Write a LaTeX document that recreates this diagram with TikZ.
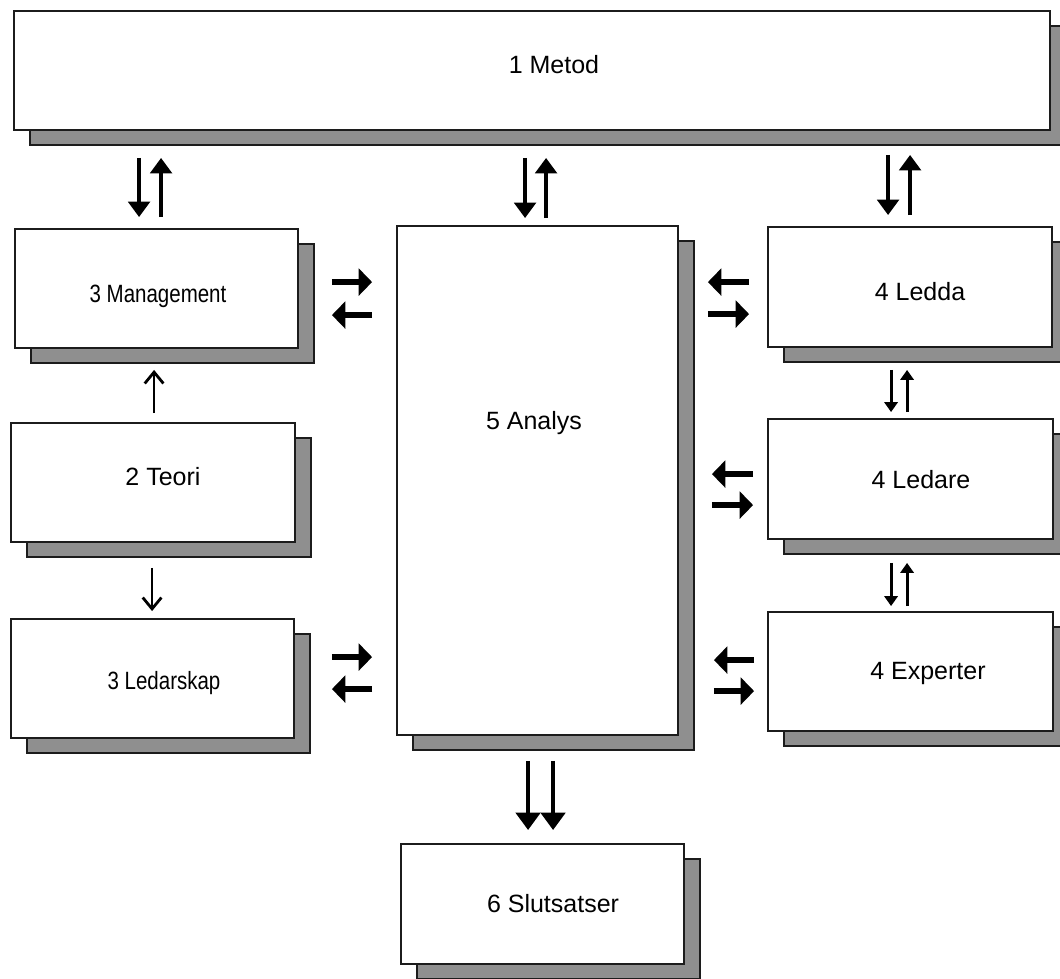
\documentclass[tikz,border=0pt]{standalone}
\usepackage{fontspec}
\setmainfont{Liberation Sans}
\newfontfamily\narrowfont{Liberation Sans}[FakeStretch=0.82]
\usetikzlibrary{arrows.meta,fit}
\definecolor{shadowgray}{HTML}{8F8F8F}
\definecolor{edgecol}{HTML}{1C1C1C}
\tikzset{
  boxnode/.style={draw=edgecol, line width=1.4pt, fill=white, inner sep=0pt},
  shadowbox/.style={draw=edgecol, line width=1.4pt, fill=shadowgray},
  boxtext/.style={anchor=base, inner sep=0pt, font=\fontsize{18.75}{22}\selectfont},
  narrowtext/.style={anchor=base, inner sep=0pt, font=\fontsize{18.75}{22}\selectfont\narrowfont},
  vfat/.style={line width=3.2pt, -{Triangle[width=16pt,length=11.5pt]}},
  hfat/.style={line width=4.5pt, -{Triangle[width=20pt,length=10pt]}},
  dfat/.style={line width=3.6pt, -{Triangle[width=18pt,length=13pt]}},
  vthin/.style={line width=2.2pt, -{Triangle[width=10pt,length=7.5pt]}},
  barb/.style={line width=2.1pt, -{Straight Barb[width=14pt,length=8.5pt]}},
}
\newcommand\shadowedbox[5]{%
  \path[shadowbox] (#2+16,#3+15) rectangle (#4+16,#5+15);
  \node[boxnode, fit={(#2,#3) (#4,#5)}] (#1) {};
}
\begin{document}
\begin{tikzpicture}[x=0.75pt, y=-0.75pt]
\useasboundingbox (0,0) rectangle (1060,978);
\fill[white] (0,0) rectangle (1060,978);

% boxes
\shadowedbox{metod}{14}{11}{1050}{130}
\shadowedbox{mgmt}{15}{229}{298}{348}
\shadowedbox{teori}{11}{423}{295}{542}
\shadowedbox{ledarskap}{11}{619}{294}{738}
\shadowedbox{analys}{397}{226}{678}{735}
\shadowedbox{slut}{401}{844}{684}{964}
\shadowedbox{ledda}{768}{227}{1052}{347}
\shadowedbox{ledare}{768}{419}{1053}{539}
\shadowedbox{experter}{768}{612}{1053}{731}

% texts
\node[boxtext] (metodT) at (554,73) {1 Metod};
\node[narrowtext] (mgmtT) at (158,302) {3 Management};
\node[boxtext] (teoriT) at (163,485) {2 Teori};
\node[narrowtext] (ledarskapT) at (164,689) {3 Ledarskap};
\node[boxtext] (analysT) at (534,429) {5 Analys};
\node[boxtext] (slutT) at (553,912) {6 Slutsatser};
\node[boxtext] (leddaT) at (920,300) {4 Ledda};
\node[boxtext] (ledareT) at (921,488) {4 Ledare};
\node[boxtext] (experterT) at (928,679) {4 Experter};

% Metod <-> Management
\draw[vfat] ([shift={(126,27)}]metod.south west) -- ([shift={(125,-11)}]mgmt.north west);
\draw[vfat] ([shift={(147,-11)}]mgmt.north west) -- ([shift={(148,27)}]metod.south west);
% Metod <-> Analys
\draw[vfat] ([shift={(512,27)}]metod.south west) -- ([shift={(129,-7)}]analys.north west);
\draw[vfat] ([shift={(150,-7)}]analys.north west) -- ([shift={(533,27)}]metod.south west);
% Metod <-> Ledda
\draw[vfat] ([shift={(875,24)}]metod.south west) -- ([shift={(121,-11)}]ledda.north west);
\draw[vfat] ([shift={(143,-11)}]ledda.north west) -- ([shift={(897,24)}]metod.south west);

% Management <-> Analys
\draw[hfat] ([shift={(33,54)}]mgmt.north east) -- ([shift={(-24,57)}]analys.north west);
\draw[hfat] ([shift={(-24,90)}]analys.north west) -- ([shift={(33,87)}]mgmt.north east);
% Ledarskap <-> Analys
\draw[hfat] ([shift={(37,39)}]ledarskap.north east) -- ([shift={(-24,432)}]analys.north west);
\draw[hfat] ([shift={(-24,464)}]analys.north west) -- ([shift={(37,71)}]ledarskap.north east);

% Ledda <-> Analys
\draw[hfat] ([shift={(-18,56)}]ledda.north west) -- ([shift={(29,57)}]analys.north east);
\draw[hfat] ([shift={(29,89)}]analys.north east) -- ([shift={(-18,88)}]ledda.north west);
% Ledare <-> Analys
\draw[hfat] ([shift={(-14,56)}]ledare.north west) -- ([shift={(33,249)}]analys.north east);
\draw[hfat] ([shift={(33,280)}]analys.north east) -- ([shift={(-14,87)}]ledare.north west);
% Experter <-> Analys
\draw[hfat] ([shift={(-13,49)}]experter.north west) -- ([shift={(35,435)}]analys.north east);
\draw[hfat] ([shift={(35,466)}]analys.north east) -- ([shift={(-13,80)}]experter.north west);

% Ledda <-> Ledare
\draw[vthin] ([shift={(124,22)}]ledda.south west) -- ([shift={(124,-6)}]ledare.north west);
\draw[vthin] ([shift={(140,-6)}]ledare.north west) -- ([shift={(140,22)}]ledda.south west);
% Ledare <-> Experter
\draw[vthin] ([shift={(124,23)}]ledare.south west) -- ([shift={(124,-5)}]experter.north west);
\draw[vthin] ([shift={(140,-5)}]experter.north west) -- ([shift={(140,23)}]ledare.south west);

% Teori -> Management, Teori -> Ledarskap
\draw[barb] ([shift={(144,-9)}]teori.north west) -- ([shift={(140,21)}]mgmt.south west);
\draw[barb] ([shift={(142,25)}]teori.south west) -- ([shift={(142,-7)}]ledarskap.north west);

% Analys -> Slutsatser
\draw[dfat] ([shift={(132,25)}]analys.south west) -- ([shift={(128,-13)}]slut.north west);
\draw[dfat] ([shift={(157,25)}]analys.south west) -- ([shift={(153,-13)}]slut.north west);
\end{tikzpicture}
\end{document}
